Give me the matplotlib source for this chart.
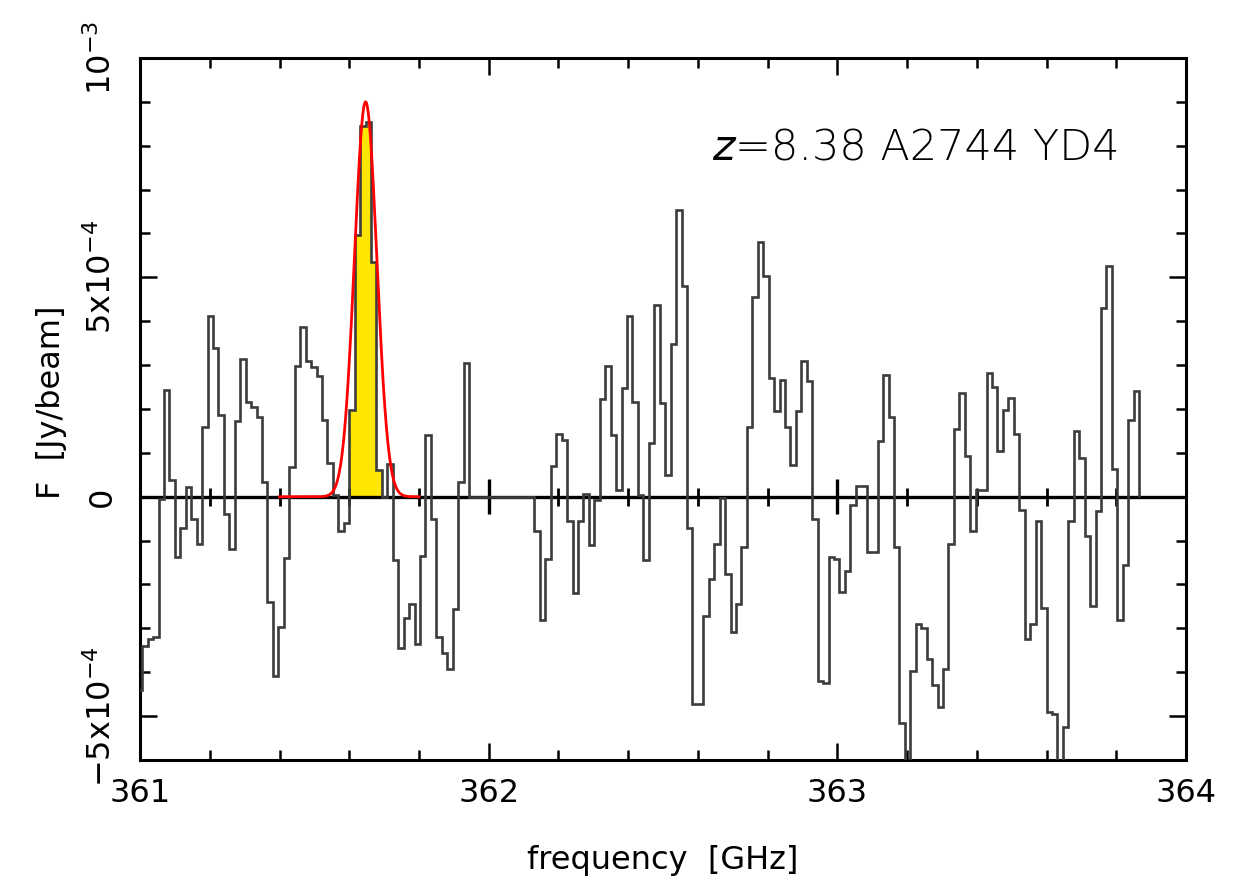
import numpy as np
import matplotlib
matplotlib.use('Agg')
from matplotlib import pyplot as plt
from matplotlib.ticker import MultipleLocator, FixedLocator

# channel grid of the spectrum (GHz)
f_start = 360.9905
chan_width = 0.015625

# flux per channel, in units of 1e-4 Jy/beam
flux_e4 = [
    -4.4, -3.4, -3.25, -3.2, -0.05, 2.44, 0.39, -1.38, -0.72, 0.23,
    -0.5, -1.08, 1.6, 4.13, 3.39, 1.86, -0.4, -1.19, 1.73, 3.15,
    2.15, 2.04, 1.81, 0.34, -2.4, -4.08, -2.98, -1.4, 0.67, 2.99,
    3.86, 3.1, 2.95, 2.75, 1.75, 0.78, 0.03, -0.78, -0.6, 1.97,
    5.97, 8.44, 8.55, 5.34, 0.6, 0.0, 0.75, -1.45, -3.45, -2.77,
    -2.45, -3.35, -1.35, 1.41, -0.5, -3.19, -3.56, -3.93, -2.56, 0.34,
    3.04, 0.0, 0.0, 0.0, 0.0, 0.0, 0.0, 0.0, 0.0, 0.0,
    0.0, 0.0, 0.0, -0.77, -2.82, -1.43, 0.7, 1.44, 1.3, -0.56,
    -2.19, -0.56, 0.07, -1.11, -0.08, 2.23, 2.97, 1.41, 0.15, 2.48,
    4.13, 2.15, 0.05, -1.45, 1.23, 4.36, 2.13, 0.5, 3.49, 6.53,
    4.81, -0.72, -4.72, -4.72, -2.72, -1.87, -1.08, -0.03, -1.77, -3.08,
    -2.45, -1.14, 1.6, 4.55, 5.81, 5.02, 2.7, 1.96, 2.66, 1.6,
    0.73, 1.96, 3.1, 2.63, -0.5, -4.2, -4.25, -1.37, -1.43, -2.18,
    -1.7, -0.18, 0.25, 0.25, -1.26, -1.26, 1.27, 2.78, 1.81, -1.15,
    -5.15, -6.5, -3.97, -2.9, -3.0, -3.7, -4.3, -4.8, -3.93, -1.07,
    1.55, 2.36, 0.92, -0.77, 0.15, 0.15, 2.82, 2.5, 1.04, 1.97,
    2.24, 1.43, -0.3, -3.25, -2.9, -0.56, -2.53, -4.9, -4.95, -6.5,
    -5.25, -0.56, 1.49, 0.88, -0.9, -2.48, -0.32, 4.3, 5.27, 0.64,
    -2.8, -1.55, 1.76, 2.4,
]

# channels integrated for the line (shaded)
line_first, line_last = 39, 44

# gaussian fit of the line
fit_amp = 9.0e-4
fit_center = 361.647
fit_sigma = 0.032
fit_lo, fit_hi = 361.40, 361.80

x_ticks = [361, 362, 363, 364]
y_ticks = [-5e-4, 0, 5e-4, 1e-3]
y_ticklabels = ['\u22125x10$^{-4}$', '0', '5x10$^{-4}$', '10$^{-3}$']
label_text = '=8.38 A2744 YD4'

flux = np.array(flux_e4) * 1e-4
edges = f_start + chan_width * np.arange(len(flux) + 1)

fig = plt.figure(figsize=(12.47, 8.92), dpi=100)
ax = fig.add_axes([0.1123, 0.148, 0.8388, 0.787])

# shaded line channels
ax.stairs(flux[line_first:line_last + 1], edges[line_first:line_last + 2],
          fill=True, color='#ffe600', zorder=1)

# zero line with its own ticks
ax.axhline(0, color='black', lw=2.4, zorder=2)
minor_pos = np.arange(361.2, 364.0, 0.2)
ax.vlines(minor_pos, -0.2e-4, 0.2e-4, color='black', lw=2, zorder=2)
ax.vlines([362, 363], -0.4e-4, 0.4e-4, color='black', lw=2.4, zorder=2)

# spectrum
ax.stairs(flux, edges, baseline=0, color='#3c3c3c', lw=1.9, zorder=3)

# gaussian fit
xf = np.linspace(fit_lo, fit_hi, 500)
yf = fit_amp * np.exp(-0.5 * ((xf - fit_center) / fit_sigma) ** 2)
ax.plot(xf, yf, color='#ff0000', lw=2, zorder=4)

ax.set_xlim(361, 364)
ax.set_ylim(-6e-4, 1e-3)

ax.xaxis.set_major_locator(FixedLocator(x_ticks))
ax.set_xticklabels([str(v) for v in x_ticks])
ax.xaxis.set_minor_locator(MultipleLocator(0.2))
ax.yaxis.set_major_locator(FixedLocator(y_ticks))
ax.set_yticklabels(y_ticklabels, rotation=90, va='center')
ax.yaxis.set_minor_locator(MultipleLocator(1e-4))

ax.tick_params(which='both', direction='in', top=True, right=True,
               width=1.8, colors='black', labelsize=23)
ax.tick_params(which='major', length=12)
ax.tick_params(which='minor', length=7)
ax.tick_params(axis='x', which='major', pad=13)
ax.tick_params(axis='y', which='major', pad=16)

for sp in ax.spines.values():
    sp.set_linewidth(2.2)

ax.set_xlabel('frequency  [GHz]', fontsize=23)
ax.xaxis.set_label_coords(0.5, -0.121)
ax.set_ylabel('F  [Jy/beam]', fontsize=23)
ax.yaxis.set_label_coords(-0.07, 0.51)

t1 = ax.text(0.547, 0.855, 'z', transform=ax.transAxes, fontsize=31,
             fontstyle='italic', fontweight='light', ha='left', va='baseline')
ax.annotate(label_text, xy=(1, 0), xycoords=t1, fontsize=31,
            fontweight='light', ha='left', va='bottom')

fig.savefig('out.png', dpi=100)
